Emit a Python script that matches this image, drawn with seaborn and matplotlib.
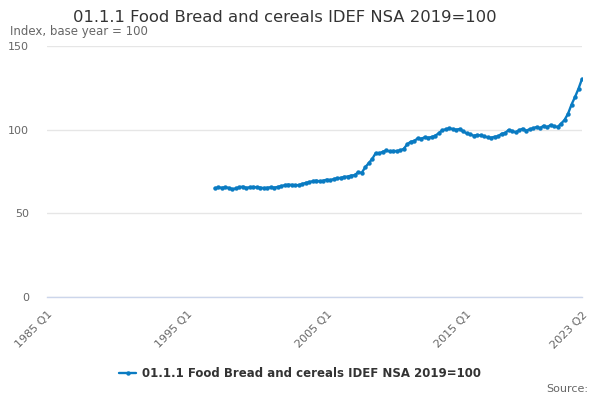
import pandas as pd
import matplotlib
matplotlib.use("Agg")
import matplotlib.pyplot as plt
import seaborn as sns

# quarterly index values, 1997 Q1 to 2023 Q2
first_quarter = "1997Q1"
values = [
    65.0, 65.5, 65.3, 65.6,   # 1997
    65.2, 64.4, 64.9, 65.6,   # 1998
    66.0, 65.2, 65.6, 65.8,   # 1999
    65.6, 65.4, 65.1, 65.3,   # 2000
    65.6, 65.4, 65.8, 66.3,   # 2001
    66.8, 67.2, 67.0, 66.8,   # 2002
    66.9, 67.6, 68.2, 68.7,   # 2003
    69.2, 69.6, 69.1, 69.5,   # 2004
    70.2, 69.8, 70.5, 71.0,   # 2005
    71.2, 71.8, 72.0, 72.6,   # 2006
    72.8, 74.6, 74.2, 77.5,   # 2007
    80.0, 82.5, 86.0, 85.8,   # 2008
    86.8, 87.6, 87.0, 87.3,   # 2009
    87.2, 87.6, 88.5, 91.2,   # 2010
    92.8, 93.2, 94.8, 94.6,   # 2011
    95.4, 95.2, 95.6, 96.4,   # 2012
    97.8, 99.6, 100.2, 100.8, # 2013
    100.4, 100.0, 100.4, 99.0, # 2014
    97.8, 97.2, 96.4, 96.8,   # 2015
    96.6, 96.0, 95.4, 95.2,   # 2016
    95.8, 96.0, 97.6, 98.0,   # 2017
    99.8, 99.2, 98.4, 99.6,   # 2018
    100.6, 99.4, 100.2, 100.8, # 2019
    101.6, 100.8, 102.4, 101.4, # 2020
    102.8, 102.0, 101.6, 103.6, # 2021
    105.8, 109.5, 115.0, 119.5, # 2022
    124.5, 130.3,             # 2023
]
series_name = "01.1.1 Food Bread and cereals IDEF NSA 2019=100"

# axis runs from 1985 Q1 to 2023 Q2
axis_quarters = pd.period_range("1985Q1", "2023Q2", freq="Q")
axis_labels = [f"{p.year} Q{p.quarter}" for p in axis_quarters]

periods = pd.period_range(first_quarter, periods=len(values), freq="Q")
df = pd.DataFrame({
    "pos": [axis_quarters.get_loc(p) for p in periods],
    "value": values,
    "series": series_name,
})

sns.set_style("white")
plt.rcParams["font.family"] = ["DejaVu Sans"]

fig = plt.figure(figsize=(6, 4), dpi=100)
ax = fig.add_axes([0.0783, 0.2575, 0.8917, 0.6275])

blue = "#0a7bc2"
sns.lineplot(data=df, x="pos", y="value", hue="series", palette=[blue],
             marker="o", markersize=3.2, markeredgewidth=0, linewidth=1.7,
             ax=ax, legend=True)

ax.set_xlim(0, len(axis_quarters) - 1)
ax.set_ylim(0, 150)
ax.set_yticks([0, 50, 100, 150])
ax.yaxis.grid(True, color="#e6e6e6", linewidth=1)
ax.set_axisbelow(True)

tick_pos = list(range(0, 141, 10)) + [len(axis_quarters) - 1]
label_pos = [0, 40, 80, 120, len(axis_quarters) - 1]
ax.set_xticks(tick_pos)
ax.set_xticklabels([axis_labels[p] if p in label_pos else "" for p in tick_pos],
                   rotation=45, ha="right", rotation_mode="anchor")
ax.tick_params(axis="x", length=6, width=1, color="#c0cde6", labelcolor="#666666",
               labelsize=8, pad=3)
ax.tick_params(axis="y", length=0, labelcolor="#666666", labelsize=8, pad=13)

for side in ["top", "right", "left"]:
    ax.spines[side].set_visible(False)
ax.spines["bottom"].set_color("#ccd6eb")
ax.spines["bottom"].set_linewidth(1)
ax.set_xlabel("")
ax.set_ylabel("")

handles, labels = ax.get_legend_handles_labels()
ax.get_legend().remove()
fig.legend(handles, labels, loc="center", bbox_to_anchor=(0.5, 0.067),
           frameon=False, handlelength=1.4, handletextpad=0.5,
           prop={"size": 8.5, "weight": "bold"}, labelcolor="#333333")

fig.text(0.475, 0.955, series_name, ha="center", va="center",
         fontsize=11.8, color="#333333")
fig.text(0.017, 0.92, "Index, base year = 100", ha="left", va="center",
         fontsize=8.5, color="#666666")
fig.text(0.98, 0.028, "Source:", ha="right", va="center",
         fontsize=8, color="#666666")

fig.savefig("out.png", dpi=100)
